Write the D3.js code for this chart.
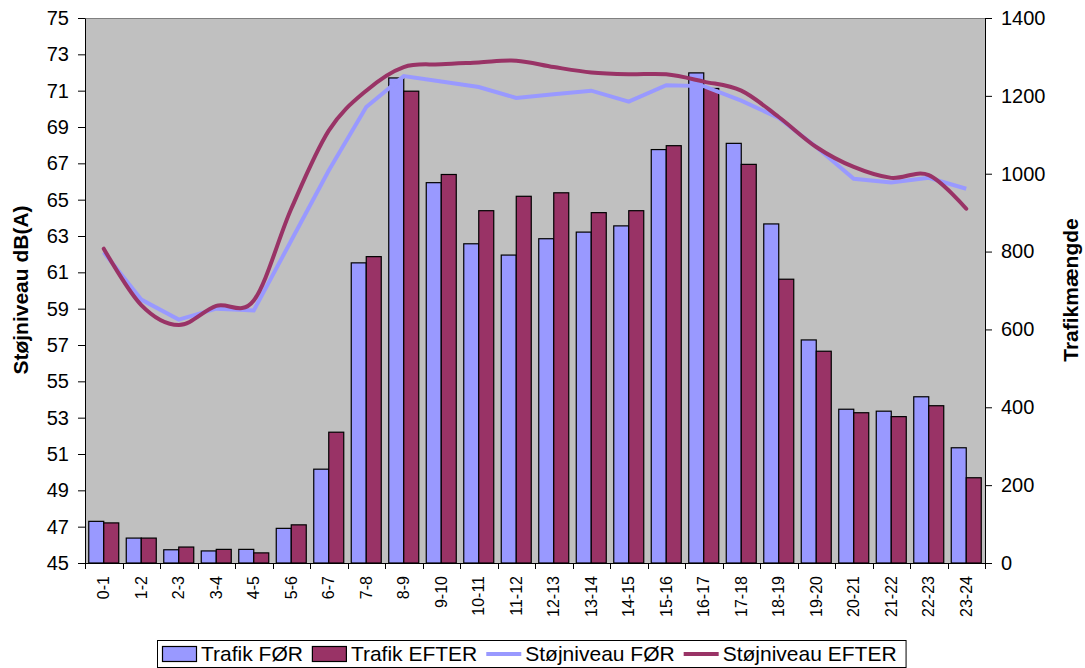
<!DOCTYPE html>
<html>
<head>
<meta charset="utf-8">
<script src="https://cdn.jsdelivr.net/npm/d3@7"></script>
<style>
  body { margin: 0; background: #fff; }
  svg { display: block; font-family: "Liberation Sans", Arial, sans-serif; }
</style>
</head>
<body>
<svg id="chart" width="1085" height="668"></svg>
<script>
// Hourly intervals
const categories = ["0-1","1-2","2-3","3-4","4-5","5-6","6-7","7-8","8-9","9-10","10-11","11-12",
  "12-13","13-14","14-15","15-16","16-17","17-18","18-19","19-20","20-21","21-22","22-23","23-24"];

// Traffic volume per hour (right axis)
const trafikFor   = [107, 64, 34, 31, 35, 89, 241, 771, 1246, 977, 820, 791, 833, 850, 866, 1062, 1259, 1078, 871, 573, 395, 390, 427, 296];
const trafikEfter = [103, 64, 41, 35, 26, 98, 336, 787, 1212, 998, 905, 942, 951, 900, 905, 1072, 1219, 1024, 729, 544, 386, 376, 404, 219];

// Noise level dB(A) per hour (left axis)
const stojFor   = [62.1, 59.5, 58.4, 59.0, 58.9, 62.75, 66.6, 70.1, 71.8, 71.5, 71.2, 70.6, 70.8, 71.0, 70.4, 71.3, 71.25, 70.45, 69.5, 67.9, 66.15, 65.95, 66.2, 65.6];
const stojEfter = [62.3, 59.2, 58.1, 59.15, 59.45, 64.5, 68.8, 71.0, 72.3, 72.45, 72.55, 72.65, 72.3, 72.0, 71.9, 71.9, 71.5, 71.0, 69.55, 67.9, 66.8, 66.2, 66.35, 64.5];

// Axis ticks
const leftTicks  = d3.range(45, 76, 2);
const rightTicks = d3.range(0, 1401, 200);

const seriesNames = ["Trafik FØR", "Trafik EFTER", "Støjniveau FØR", "Støjniveau EFTER"];

const colFor = "#9999FF", colEfter = "#993366";

const svg = d3.select("#chart");
const plot = { left: 85, right: 985, top: 18, bottom: 563 };

const x  = d3.scaleBand().domain(categories).range([plot.left, plot.right]).padding(0);
const xs = d3.scaleBand().domain(["for", "efter"]).range([0, x.bandwidth()]).paddingInner(0).paddingOuter(0.25);
const yL = d3.scaleLinear().domain([45, 75]).range([plot.bottom, plot.top]);
const yR = d3.scaleLinear().domain([0, 1400]).range([plot.bottom, plot.top]);

// Plot background
svg.append("rect")
  .attr("x", plot.left + 0.5).attr("y", plot.top + 0.5)
  .attr("width", plot.right - plot.left).attr("height", plot.bottom - plot.top)
  .attr("fill", "#C0C0C0").attr("stroke", "#808080").attr("stroke-width", 1);

// Bars
const barData = categories.map((c, i) => ({ c, for: trafikFor[i], efter: trafikEfter[i] }));
const groups = svg.append("g").selectAll("g").data(barData).join("g")
  .attr("transform", d => `translate(${x(d.c)},0)`);
[["for", colFor], ["efter", colEfter]].forEach(([key, col]) => {
  groups.append("rect")
    .attr("x", xs(key))
    .attr("y", d => yR(d[key]))
    .attr("width", xs.bandwidth())
    .attr("height", d => yR(0) - yR(d[key]))
    .attr("fill", col)
    .attr("stroke", "#000")
    .attr("stroke-width", 1.2);
});

// Noise lines
const cx = i => x(categories[i]) + x.bandwidth() / 2;
const lineFor = d3.line().x((d, i) => cx(i)).y(d => yL(d)).curve(d3.curveLinear);
const lineEfter = d3.line().x((d, i) => cx(i)).y(d => yL(d)).curve(d3.curveCatmullRom.alpha(0));

svg.append("path").attr("d", lineFor(stojFor))
  .attr("fill", "none").attr("stroke", colFor).attr("stroke-width", 4).attr("stroke-linejoin", "miter");
svg.append("path").attr("d", lineEfter(stojEfter))
  .attr("fill", "none").attr("stroke", colEfter).attr("stroke-width", 4).attr("stroke-linecap", "round");

// Left axis
const axL = svg.append("g").attr("transform", `translate(${plot.left},0)`)
  .call(d3.axisLeft(yL).tickValues(leftTicks).tickFormat(d3.format("d")).tickSize(7).tickSizeOuter(0).tickPadding(9));
// Right axis
const axR = svg.append("g").attr("transform", `translate(${plot.right},0)`)
  .call(d3.axisRight(yR).tickValues(rightTicks).tickFormat(d3.format("d")).tickSize(7).tickSizeOuter(0).tickPadding(9));
[axL, axR].forEach(a => {
  a.selectAll("text").attr("font-size", 20).attr("fill", "#000").attr("font-family", "Liberation Sans, Arial, sans-serif");
  a.selectAll("line, path").attr("stroke", "#000");
});

// Bottom axis: line, boundary ticks and rotated labels
const axB = svg.append("g");
axB.append("line")
  .attr("x1", plot.left).attr("x2", plot.right + 0.5)
  .attr("y1", plot.bottom + 0.5).attr("y2", plot.bottom + 0.5)
  .attr("stroke", "#000");
const bounds = categories.map(c => x(c)).concat([plot.right]);
axB.selectAll("line.tick").data(bounds).join("line").attr("class", "tick")
  .attr("x1", d => Math.round(d) + 0.5).attr("x2", d => Math.round(d) + 0.5)
  .attr("y1", plot.bottom).attr("y2", plot.bottom + 6)
  .attr("stroke", "#000");
axB.selectAll("text").data(categories).join("text")
  .attr("transform", c => `translate(${x(c) + x.bandwidth() / 2},${plot.bottom + 13}) rotate(-90)`)
  .attr("text-anchor", "end")
  .attr("dy", "0.35em")
  .attr("font-size", 16)
  .attr("fill", "#000")
  .text(c => c);

// Axis titles
svg.append("text")
  .attr("transform", "translate(21,290) rotate(-90)")
  .attr("text-anchor", "middle").attr("dy", "0.35em")
  .attr("font-size", 21).attr("font-weight", "bold")
  .text("Støjniveau dB(A)");
svg.append("text")
  .attr("transform", "translate(1071,290) rotate(-90)")
  .attr("text-anchor", "middle").attr("dy", "0.35em")
  .attr("font-size", 21).attr("font-weight", "bold")
  .text("Trafikmængde");

// Legend
const legend = svg.append("g");
const legBox = legend.append("rect")
  .attr("x", 157.5).attr("y", 640.5).attr("height", 27)
  .attr("fill", "#fff").attr("stroke", "#000");
const legY = 654;
let lx = 162;
seriesNames.forEach((name, i) => {
  const col = i % 2 === 0 ? colFor : colEfter;
  if (i < 2) {
    legend.append("rect").attr("x", lx + 0.5).attr("y", legY - 7.5).attr("width", 34).attr("height", 15)
      .attr("fill", col).attr("stroke", "#000").attr("stroke-width", 1.2);
  } else {
    legend.append("line").attr("x1", lx).attr("x2", lx + 35).attr("y1", legY).attr("y2", legY)
      .attr("stroke", col).attr("stroke-width", 4);
  }
  const t = legend.append("text").attr("x", lx + 39).attr("y", legY).attr("dy", "0.35em")
    .attr("font-size", 21).attr("fill", "#000").text(name);
  lx += 39 + t.node().getComputedTextLength() + 9;
});
legBox.attr("width", lx - 157);
</script>
</body>
</html>
